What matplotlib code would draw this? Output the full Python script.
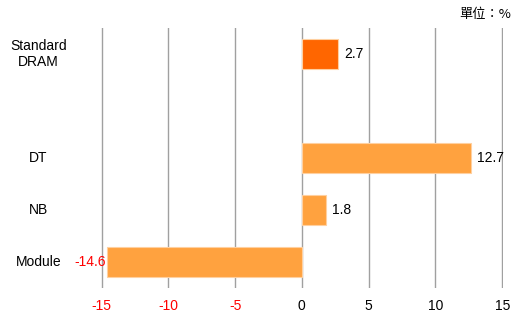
import matplotlib
matplotlib.use("Agg")
import matplotlib.pyplot as plt

plt.rcParams['font.family'] = ['Liberation Sans', 'Noto Sans CJK TC', 'DejaVu Sans']

# data
categories = ["Module", "NB", "DT", "", "Standard\nDRAM"]
values = [-14.6, 1.8, 12.7, None, 2.7]
colors = ["#FFA23F", "#FFA23F", "#FFA23F", None, "#FF6600"]
ticks = [-15, -10, -5, 0, 5, 10, 15]

fig = plt.figure(figsize=(5.31, 3.2), dpi=100)
ax = fig.add_axes([0.190, 0.10, 0.757, 0.8125])

for i in range(len(categories)):
    if values[i] is None:
        continue
    ax.barh(i, values[i], height=0.56, color=colors[i], edgecolor="#FFD0A0",
            linewidth=0.8, zorder=3)
    if values[i] < 0:
        ax.text(values[i] - 0.1, i, str(values[i]), ha="right", va="center",
                fontsize=10, color="red")
    else:
        ax.text(values[i] + 0.45, i, str(values[i]), ha="left", va="center",
                fontsize=10, color="black")
    ax.text(-0.155, i, categories[i], transform=ax.get_yaxis_transform(),
            ha="center", va="center", fontsize=10, linespacing=1.15)

ax.set_xlim(-15.05, 15.05)
ax.set_ylim(-0.5, 4.5)
ax.set_yticks([])
ax.set_xticks(ticks)
ax.set_xticklabels([str(t) for t in ticks], fontsize=10)
for lab, t in zip(ax.get_xticklabels(), ticks):
    if t < 0:
        lab.set_color("red")
ax.tick_params(axis="x", length=0, pad=8)
for t in ticks:
    ax.axvline(t, color="#A0A0A0", linewidth=1, zorder=1)
for s in ax.spines.values():
    s.set_visible(False)

fig.text(0.962, 0.955, "單位：%", ha="right", va="center", fontsize=9.5,
         family=['Noto Sans CJK TC', 'DejaVu Sans'])

fig.savefig("out.png", dpi=100)
